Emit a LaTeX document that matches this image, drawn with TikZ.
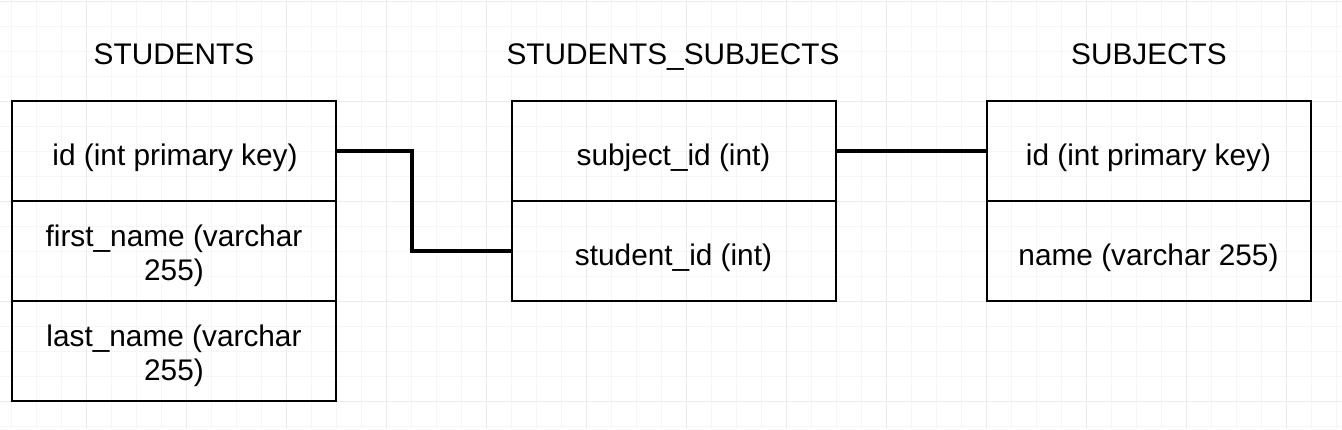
\documentclass[tikz,border=0pt]{standalone}
\usepackage{fontspec}
\setmainfont{Liberation Sans}
\definecolor{gridminor}{HTML}{F6F6F6}
\definecolor{gridmajor}{HTML}{EBEBEB}
\begin{document}
\begin{tikzpicture}[x=1pt,y=-1pt,
  cell/.style={draw=black, line width=2pt, minimum width=324pt, minimum height=100pt,
    inner sep=0pt},
  txt/.style={inner sep=0pt, align=center,
    font=\fontsize{29.8pt}{34pt}\selectfont},
  conn/.style={draw=black, line width=4pt}]
\useasboundingbox (0,0) rectangle (1342,429);
\fill[white] (0,0) rectangle (1342,429);
% grid
\foreach \i in {0,...,53} \draw[gridminor, line width=1pt] (11.7+25*\i,0) -- (11.7+25*\i,429);
\foreach \i in {0,...,17} \draw[gridminor, line width=1pt] (0,1.7+25*\i) -- (1342,1.7+25*\i);
\foreach \i in {-1,...,12} \draw[gridmajor, line width=1pt] (86.7+100*\i,0) -- (86.7+100*\i,429);
\foreach \i in {0,...,4} \draw[gridmajor, line width=1pt] (0,1.7+100*\i) -- (1342,1.7+100*\i);
% titles
\node[txt, anchor=base] (tst) at (174,64) {STUDENTS};
\node[txt, anchor=base] (tss) at (673,64) {STUDENTS\_SUBJECTS};
\node[txt, anchor=base] (tsb) at (1149,64) {SUBJECTS};
% STUDENTS
\node[cell] (st1) at (174,151) {};
\node[cell] (st2) at (174,251) {};
\node[cell] (st3) at (174,351) {};
\node[txt, anchor=base] (st1t) at (175,165) {id (int primary key)};
\node[txt] (st2t) at (174,255.5) {first\_name (varchar\\255)};
\node[txt] (st3t) at (174,355.5) {last\_name (varchar\\255)};
% STUDENTS_SUBJECTS
\node[cell] (ss1) at (673.5,151) {};
\node[cell] (ss2) at (673.5,251) {};
\node[txt, anchor=base] (ss1t) at (673.5,165) {subject\_id (int)};
\node[txt, anchor=base] (ss2t) at (673.5,265) {student\_id (int)};
% SUBJECTS
\node[cell] (sb1) at (1148.5,151) {};
\node[cell] (sb2) at (1148.5,251) {};
\node[txt, anchor=base] (sb1t) at (1148.5,165) {id (int primary key)};
\node[txt, anchor=base] (sb2t) at (1148.5,265) {name (varchar 255)};
% connectors
\draw[conn] (st1.east) -- ++(75,0) |- (ss2.west);
\draw[conn] (ss1.east) -- (sb1.west);
\end{tikzpicture}
\end{document}
